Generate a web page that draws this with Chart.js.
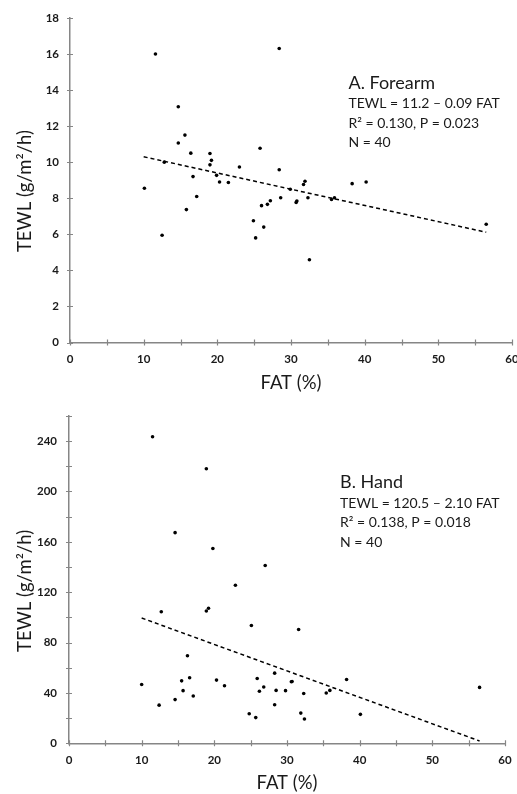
<!DOCTYPE html>
<html>
<head>
<meta charset="utf-8">
<script src="https://cdn.jsdelivr.net/npm/chart.js@4.4.0/dist/chart.umd.min.js"></script>
<style>
  body { margin: 0; background: #fff; }
  .panel { position: relative; width: 517px; height: 397px; }
</style>
</head>
<body>
<div class="panel"><canvas id="chartForearm"></canvas></div>
<div class="panel"><canvas id="chartHand"></canvas></div>
<script>
// Datos: A. Forearm
const fatForearm  = [11.6, 14.7, 15.6, 14.7, 16.4, 19.0, 19.2, 19.0, 12.8, 10.1,
                     16.7, 19.9, 20.3, 21.5, 23.0, 25.8, 17.2, 12.5, 15.8, 24.9,
                     25.2, 28.4, 28.4, 31.9, 31.7, 38.3, 40.2, 26.0, 26.3, 26.8,
                     27.2, 28.6, 29.9, 30.7, 30.8, 32.3, 32.5, 35.5, 35.9, 56.5];
const tewlForearm = [16.0, 13.07, 11.5, 11.06, 10.5, 10.48, 10.1, 9.85, 10.0, 8.55,
                     9.2, 9.27, 8.9, 8.87, 9.73, 10.77, 8.1, 5.95, 7.37, 6.75,
                     5.8, 16.3, 9.58, 8.94, 8.76, 8.81, 8.9, 7.59, 6.4, 7.66,
                     7.86, 8.03, 8.5, 7.77, 7.85, 8.03, 4.59, 7.93, 8.03, 6.56];

// Datos: B. Hand
const fatHand  = [11.5, 18.9, 14.6, 19.8, 22.9, 27.0, 12.7, 18.9, 19.2, 25.1,
                  10.0, 12.4, 14.6, 15.5, 15.7, 16.3, 16.6, 17.1, 20.3, 21.4,
                  24.8, 25.7, 25.9, 26.2, 31.6, 26.8, 28.3, 28.5, 28.3, 29.8,
                  30.6, 30.7, 32.3, 31.9, 32.4, 35.4, 35.9, 38.2, 40.1, 56.5];
const tewlHand = [243.4, 218, 167.3, 154.7, 125.5, 141.2, 104.5, 105.1, 107.2, 93.6,
                  46.7, 30.3, 34.7, 49.6, 41.8, 69.5, 52, 37.6, 50.2, 45.7,
                  23.5, 20.4, 51.5, 41.3, 90.4, 44.7, 55.7, 42, 30.6, 41.8,
                  48.9, 49.1, 39.5, 24, 19.3, 40, 42, 50.7, 23, 44.4];

// Rectas de regresión (texto del gráfico) y su rango en FAT
const fitForearm = [11.2, -0.09];
const fitHand    = [120.5, -2.10];
const fitRange   = [10, 56.5];

// Textos de anotación
const notesForearm = ['A. Forearm', 'TEWL = 11.2 \u2013 0.09 FAT', 'R\u00b2 = 0.130, P = 0.023', 'N = 40'];
const notesHand    = ['B. Hand', 'TEWL = 120.5 \u2013 2.10 FAT', 'R\u00b2 = 0.138, P = 0.018', 'N = 40'];
const yTitle = 'TEWL (g/m\u00b2/h)';

const AXIS = '#868686';
const TXT = '#1a1a1a';
const FONT = 'Lato';

// marcas de eje cruzando la línea del eje
const crossTicks = {
    id: 'crossTicks',
    afterDraw(chart) {
        const ctx = chart.ctx;
        const xs = chart.scales.x, ys = chart.scales.y;
        const area = chart.chartArea;
        ctx.save();
        ctx.strokeStyle = AXIS;
        ctx.lineWidth = 1.2;
        ctx.beginPath();
        xs.ticks.forEach(t => {
            const px = Math.round(xs.getPixelForValue(t.value)) + 0.5;
            ctx.moveTo(px, area.bottom - 3);
            ctx.lineTo(px, area.bottom + 3);
        });
        ys.ticks.forEach(t => {
            const py = Math.round(ys.getPixelForValue(t.value)) + 0.5;
            ctx.moveTo(area.left - 3, py);
            ctx.lineTo(area.left + 3, py);
        });
        ctx.stroke();
        ctx.restore();
    }
};

// textos: anotación y título del eje Y (algo desplazado hacia abajo, como en el original)
const notes = {
    id: 'notes',
    afterDraw(chart, args, opts) {
        const ctx = chart.ctx;
        const x = chart.scales.x.getPixelForValue(opts.at[0]);
        let y = chart.scales.y.getPixelForValue(opts.at[1]);
        ctx.save();
        ctx.fillStyle = TXT;
        ctx.textBaseline = 'middle';
        ctx.textAlign = 'left';
        opts.lines.forEach((line, i) => {
            ctx.font = (i === 0 ? '18px ' : '14px ') + FONT;
            ctx.fillText(line, x, y);
            y += i === 0 ? 20.5 : 19.8;
        });
        // título eje Y
        ctx.translate(25, chart.scales.y.getPixelForValue(opts.titleAt));
        ctx.rotate(-Math.PI / 2);
        ctx.textAlign = 'center';
        ctx.font = '18.5px ' + FONT;
        ctx.fillText(yTitle, 0, 0);
        ctx.restore();
    }
};

function makeChart(id, fat, tewl, fit, cfg) {
    const pts = fat.map((f, i) => ({ x: f, y: tewl[i] }));
    const line = fitRange.map(f => ({ x: f, y: fit[0] + fit[1] * f }));
    return new Chart(document.getElementById(id), {
        type: 'scatter',
        data: {
            datasets: [
                { data: pts, backgroundColor: '#000', borderWidth: 0, pointRadius: 1.8 },
                { type: 'line', data: line, borderColor: '#000', borderWidth: 1.5,
                  borderDash: [4, 3], pointRadius: 0, fill: false }
            ]
        },
        options: {
            responsive: true,
            maintainAspectRatio: false,
            animation: false,
            layout: { padding: cfg.padding },
            plugins: {
                legend: { display: false },
                tooltip: { enabled: false },
                notes: { at: cfg.noteAt, lines: cfg.notes, titleAt: cfg.titleAt }
            },
            scales: {
                x: {
                    type: 'linear', min: 0, max: 60,
                    grid: { display: false, drawTicks: false },
                    border: { display: true, color: AXIS, width: 1.5 },
                    ticks: {
                        stepSize: 5, autoSkip: false, maxRotation: 0, padding: 10,
                        color: TXT, font: { family: FONT, size: 11.5, weight: 'bold' },
                        callback: v => v % 10 === 0 ? v : ''
                    },
                    title: { display: true, text: 'FAT (%)', color: TXT,
                             font: { family: FONT, size: 18.5 }, padding: { top: 0, bottom: cfg.xTitlePad } },
                    afterFit: s => { s.height = cfg.xHeight; s.paddingLeft = 0; s.paddingRight = 0; }
                },
                y: {
                    type: 'linear', min: 0, max: cfg.yMax,
                    grid: { display: false, drawTicks: false },
                    border: { display: true, color: AXIS, width: 1.5 },
                    ticks: {
                        stepSize: cfg.yStep, autoSkip: false, padding: cfg.yPad,
                        color: TXT, font: { family: FONT, size: 11.5, weight: 'bold' },
                        callback: v => v % cfg.yLabelEvery === 0 ? v : ''
                    },
                    afterFit: s => { s.width = cfg.yWidth; }
                }
            }
        },
        plugins: [crossTicks, notes]
    });
}

document.addEventListener('DOMContentLoaded', () => {
    makeChart('chartForearm', fatForearm, tewlForearm, fitForearm, {
        padding: { top: 14, right: 5, bottom: 0, left: 0 },
        yMax: 18, yStep: 2, yLabelEvery: 2, yPad: 11, yWidth: 70,
        xHeight: 54.5, xTitlePad: 3,
        noteAt: [37.8, 14.4], notes: notesForearm, titleAt: 8.4
    });
    makeChart('chartHand', fatHand, tewlHand, fitHand, {
        padding: { top: 15.7, right: 12, bottom: 0, left: 0 },
        yMax: 260, yStep: 20, yLabelEvery: 40, yPad: 12, yWidth: 69,
        xHeight: 50.7, xTitlePad: 0,
        noteAt: [37.3, 207], notes: notesHand, titleAt: 121
    });
});
</script>
</body>
</html>
